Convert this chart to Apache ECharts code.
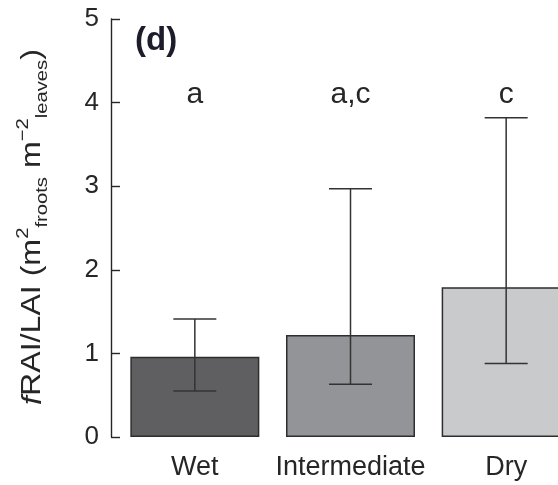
<!DOCTYPE html>
<html>
<head>
<meta charset="utf-8">
<script src="https://cdn.jsdelivr.net/npm/echarts@6/dist/echarts.min.js"></script>
<style>
  html, body { margin: 0; padding: 0; background: #fff; overflow: hidden; }
  /* plot area runs past the right edge, so the last bar is cut off */
  #chart { width: 584px; height: 485px; }
</style>
</head>
<body>
<div id="chart"></div>
<script>
// Fine-root to leaf area ratio by site moisture class
const categories = ['Wet', 'Intermediate', 'Dry'];
const meanRatio = [0.96, 1.22, 1.79];
const errLow = [0.55, 0.63, 0.88];
const errHigh = [1.41, 2.97, 3.82];
const sigLetters = ['a', 'a,c', 'c'];
const letterLevel = 4.1;
const yTicks = [0, 1, 2, 3, 4, 5];

const barColors = ['#5f5f61', '#939497', '#c9cacc'];
const FONT = '"Liberation Sans", Arial, Helvetica, sans-serif';
const INK = '#262626';

const chart = echarts.init(document.getElementById('chart'), null, { renderer: 'canvas' });

const option = {
  animation: false,
  backgroundColor: '#ffffff',
  grid: { left: 117, right: 0, top: 19, bottom: 48, containLabel: false },
  xAxis: {
    type: 'category',
    data: categories,
    axisLine: { show: false },
    axisTick: { show: false },
    axisLabel: { color: INK, fontSize: 27, fontFamily: FONT, margin: 17, interval: 0 },
    splitLine: { show: false }
  },
  yAxis: {
    type: 'value',
    min: yTicks[0],
    max: yTicks[yTicks.length - 1],
    interval: 1,
    offset: 6,
    axisLine: { show: true, lineStyle: { color: INK, width: 1.4 } },
    axisTick: { show: true, inside: true, length: 9, lineStyle: { color: INK, width: 1.4 } },
    axisLabel: { color: INK, fontSize: 26, fontFamily: FONT, margin: 12 },
    splitLine: { show: false }
  },
  graphic: [
    {
      type: 'text',
      x: 33,
      y: 227,
      rotation: Math.PI / 2,
      scaleX: 1.19,
      style: {
        text: '{i|f}{n|RAI/LAI (m}{sup|2}{sub|froots}{n| m}{sup|\u22122}{sub|leaves}{n|)}',
        align: 'center',
        verticalAlign: 'middle',
        fill: INK,
        rich: {
          i: { fontSize: 27, fontFamily: FONT, fontStyle: 'italic', lineHeight: 36, verticalAlign: 'middle', fill: INK },
          n: { fontSize: 27, fontFamily: FONT, lineHeight: 36, verticalAlign: 'middle', fill: INK },
          sup: { fontSize: 17, fontFamily: FONT, lineHeight: 20, verticalAlign: 'top', fill: INK },
          sub: { fontSize: 17, fontFamily: FONT, lineHeight: 20, verticalAlign: 'bottom', fill: INK }
        }
      }
    },
    {
      type: 'text',
      left: 135,
      top: 24,
      style: {
        text: '(d)',
        fontSize: 33,
        fontWeight: 'bold',
        fontFamily: FONT,
        fill: '#1c1c2a'
      }
    }
  ],
  series: [
    {
      type: 'bar',
      data: meanRatio.map((v, i) => ({
        value: v,
        itemStyle: { color: barColors[i] }
      })),
      barWidth: 129,
      itemStyle: { borderColor: '#2e2e2e', borderWidth: 1.5 },
      z: 2
    },
    {
      // error bars: vertical whisker with horizontal caps
      type: 'custom',
      data: categories.map((c, i) => [i, errLow[i], errHigh[i]]),
      z: 3,
      renderItem: function (params, api) {
        const lo = api.coord([api.value(0), api.value(1)]);
        const hi = api.coord([api.value(0), api.value(2)]);
        const half = 21.5;
        const style = { stroke: '#333333', lineWidth: 1.5 };
        return {
          type: 'group',
          children: [
            { type: 'line', shape: { x1: lo[0], y1: lo[1], x2: hi[0], y2: hi[1] }, style: style },
            { type: 'line', shape: { x1: lo[0] - half, y1: lo[1], x2: lo[0] + half, y2: lo[1] }, style: style },
            { type: 'line', shape: { x1: hi[0] - half, y1: hi[1], x2: hi[0] + half, y2: hi[1] }, style: style }
          ]
        };
      }
    },
    {
      // significance letters above each group
      type: 'scatter',
      data: sigLetters.map((t, i) => ({ value: [i, letterLevel], name: t })),
      symbolSize: 0,
      silent: true,
      itemStyle: { opacity: 1 },
      label: {
        show: true,
        position: 'inside',
        formatter: p => p.name,
        color: INK,
        opacity: 1,
        fontSize: 30,
        fontFamily: FONT
      }
    }
  ]
};

chart.setOption(option);
</script>
</body>
</html>
